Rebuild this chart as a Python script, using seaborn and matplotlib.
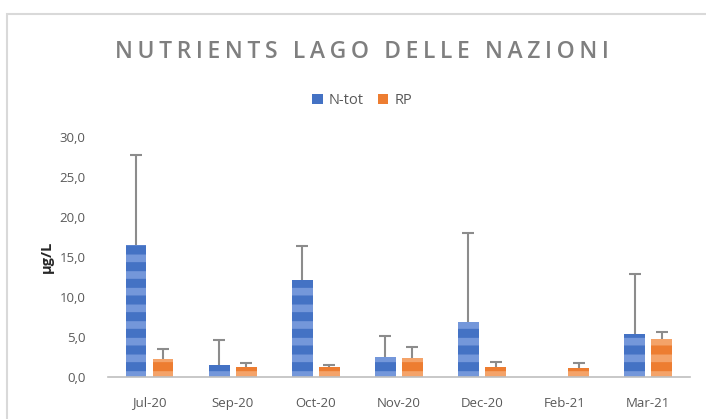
import numpy as np
import pandas as pd
import matplotlib
matplotlib.use("Agg")
import matplotlib.pyplot as plt
import seaborn as sns
from matplotlib.patches import Patch, Rectangle

# Data
months = ["Jul-20", "Sep-20", "Oct-20", "Nov-20", "Dec-20", "Feb-21", "Mar-21"]
n_tot = [16.5, 1.5, 12.1, 2.5, 6.9, 0.0, 5.4]
n_tot_err = [11.3, 3.1, 4.3, 2.6, 11.1, np.nan, 7.5]
rp = [2.2, 1.2, 1.2, 2.4, 1.3, 1.1, 4.7]
rp_err = [1.3, 0.5, 0.3, 1.3, 0.6, 0.65, 0.9]
series = ["N-tot", "RP"]
colors = ["#4472C4", "#ED7D31"]
stripe_colors = ["#7497DA", "#F4A369"]

df = pd.DataFrame({
    "month": months * 2,
    "series": [series[0]] * len(months) + [series[1]] * len(months),
    "value": n_tot + rp,
})

sns.set_style("white")
plt.rcParams["font.family"] = ["Open Sans", "DejaVu Sans"]
plt.rcParams["hatch.linewidth"] = 5.5

fig = plt.figure(figsize=(7.06, 4.19), dpi=100)
ax = fig.add_axes([0.153, 0.100, 0.824, 0.573])

sns.barplot(data=df, x="month", y="value", hue="series", order=months,
            hue_order=series, palette=colors, width=0.65, gap=0.23,
            ax=ax, legend=False, saturation=1, errorbar=None)

# striped fill like the Excel gradient bands, plus upper-only error bars
errs = [n_tot_err, rp_err]
bar_conts = list(ax.containers)
for i, cont in enumerate(bar_conts):
    xs, hs = [], []
    for bar in cont:
        bar.set_hatch("-")
        bar.set_edgecolor(stripe_colors[i])
        bar.set_linewidth(0)
        if bar.get_height() == 0:
            bar.set_visible(False)
        xs.append(bar.get_x() + bar.get_width() / 2)
        hs.append(bar.get_height())
    xs = np.array(xs)
    hs = np.array(hs)
    e = np.array(errs[i], dtype=float)
    ok = ~np.isnan(e)
    ax.vlines(xs[ok], hs[ok], hs[ok] + e[ok], color="#8C8C8C", lw=1.5, zorder=3)
    ax.plot(xs[ok], hs[ok] + e[ok], ls="none", marker="_", ms=9, mew=1.5,
            color="#8C8C8C", zorder=3)

ax.set_ylim(0, 30)
ax.set_xlim(-0.5, len(months) - 0.5)
ax.set_yticks(np.arange(0, 31, 5))
ax.set_yticklabels([f"{v:.1f}".replace(".", ",") for v in np.arange(0, 31, 5)])
ax.tick_params(axis="both", length=0, labelsize=9.5, labelcolor="#595959")
ax.tick_params(axis="x", pad=14)
ax.tick_params(axis="y", pad=16)
ax.set_xlabel("")
ax.set_ylabel("µg/L", fontsize=10.5, fontweight="bold", color="#262626", labelpad=4)
for s in ["top", "right", "left"]:
    ax.spines[s].set_visible(False)
ax.spines["bottom"].set_color("#BFBFBF")
ax.spines["bottom"].set_linewidth(1.2)

title = "NUTRIENTS LAGO DELLE NAZIONI"
fig.text(0.513, 0.877, "\u2009".join(title), ha="center", va="center",
         fontsize=16.5, color="#7F7F7F", fontweight="semibold")

handles = [Patch(facecolor=c, edgecolor="none") for c in colors]
fig.legend(handles, series, loc="center", bbox_to_anchor=(0.513, 0.760),
           ncol=2, frameon=False, fontsize=10.5, handlelength=0.7,
           handleheight=0.7, handletextpad=0.4, columnspacing=1.0,
           labelcolor="#595959")

# chart border
fig.patches.append(Rectangle((0.010, -0.05), 1.2, 1.017, transform=fig.transFigure,
                             fill=False, edgecolor="#D9D9D9", linewidth=1.5))

fig.savefig("out.png", dpi=100)
